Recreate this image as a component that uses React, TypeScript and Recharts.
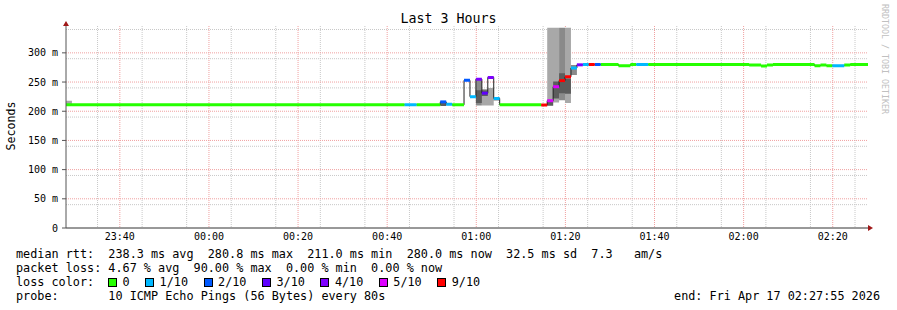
import React from "react";
import { ComposedChart, Line, Area, XAxis, YAxis, CartesianGrid } from "recharts";

// minutes relative to midnight (negative = before 00:00), each step lasts until the next one
const stepStart = [
  -32.083, -30.75, 43.917, 46.583, 51.917, 53.25, 54.583, 57.25, 58.583, 59.917,
  61.25, 62.583, 63.917, 65.25, 74.583, 75.917, 77.25, 78.583, 79.917, 81.25,
  82.583, 83.917, 85.25, 86.583, 87.917, 91.917, 94.583, 95.917, 98.583, 121.25,
  123.917, 125.25, 126.583, 135.917, 137.25, 138.583, 139.917, 142.583, 143.917,
];
const endMinute = 147.917;
const medianMs = [
  211, 211, 211, 211, 216, 212, 211, 253, 225, 255,
  231, 258, 222, 211, 210.5, 218, 242, 252.5, 259, 274,
  279.5, 280, 280, 280, 280, 278, 280, 280, 280, 279,
  277.5, 279, 280, 278, 279, 278, 278, 279, 280,
];
const lossTenths = [
  0, 0, 1, 0, 2, 1, 0, 2, 1, 4,
  3, 4, 1, 0, 9, 5, 5, 9, 9, 1,
  4, 1, 9, 2, 0, 0, 0, 1, 0, 0,
  0, 0, 0, 0, 0, 0, 1, 0, 0,
];

// smoke bands (index into steps)
const lightIdx = [0, 10, 11, 12, 15, 16, 18];
const lightLo = [210, 210, 210, 218, 209, 215, 214];
const lightHi = [218, 238, 240, 222, 343, 343, 343];
const midIdx = [9, 17, 19];
const midLo = [210, 219, 262];
const midHi = [255, 343, 279];
const coreIdx = [4, 9, 10, 15, 16, 17, 18];
const coreLo = [209, 214, 226, 210, 222, 231, 230];
const coreHi = [216, 236, 236, 218, 251, 265, 256];

const lossLevels = [0, 1, 2, 3, 4, 5, 9];
const lossColors = ["#26ff00", "#00b8ff", "#0059ff", "#5e00ff", "#7e00ff", "#dd00ff", "#ff0000"];
const lossLabels = ["0", "1/10", "2/10", "3/10", "4/10", "5/10", "9/10"];

const xTicks = [-20, 0, 20, 40, 60, 80, 100, 120, 140];
const yTicks = [0, 50, 100, 150, 200, 250, 300];

const rttLine = "median rtt:  238.3 ms avg  280.8 ms max  211.0 ms min  280.0 ms now  32.5 ms sd  7.3   am/s";
const lossLine = "packet loss: 4.67 % avg  90.00 % max  0.00 % min  0.00 % now";
const probeLine = "probe:       10 ICMP Echo Pings (56 Bytes) every 80s";
const endLine = "end: Fri Apr 17 02:27:55 2026";

// two rows per step; loss-coloured keys alternate by parity so steps don't join with thick verticals
const rows: any[] = [];
stepStart.forEach((t, i) => {
  const t1 = i + 1 < stepStart.length ? stepStart[i + 1] : endMinute;
  const r: any = { med: medianMs[i], light: null, mid: null, core: null };
  lossLevels.forEach((l) => {
    r[`l${l}a`] = null;
    r[`l${l}b`] = null;
  });
  r[`l${lossTenths[i]}${i % 2 ? "b" : "a"}`] = medianMs[i];
  const a = lightIdx.indexOf(i);
  if (a >= 0) r.light = [lightLo[a], lightHi[a]];
  const b = midIdx.indexOf(i);
  if (b >= 0) r.mid = [midLo[b], midHi[b]];
  const c = coreIdx.indexOf(i);
  if (c >= 0) r.core = [coreLo[c], coreHi[c]];
  rows.push({ t, ...r }, { t: t1, ...r });
});

const minorH: number[] = [];
for (let v = 10; v <= 340; v += 10) if (v % 50) minorH.push(v);
const majorH = yTicks.filter((v) => v > 0);
const minorV: number[] = [];
for (let m = -30; m <= 145; m += 5) if (m % 20) minorV.push(m);

const fmtTime = (m: number) => {
  const mm = ((Math.round(m) % 1440) + 1440) % 1440;
  return `${String(Math.floor(mm / 60)).padStart(2, "0")}:${String(mm % 60).padStart(2, "0")}`;
};

const mono = "'DejaVu Sans Mono', monospace";
const tickFont = { fontFamily: mono, fontSize: 10, fill: "#000" };

export default function App() {
  return (
    <div style={{ position: "absolute", left: 0, top: 0, width: 897, height: 310, background: "#fff", fontFamily: mono }}>
      <ComposedChart width={897} height={250} data={rows} margin={{ top: 26, right: 29, bottom: 2, left: 0 }}>
        <CartesianGrid horizontalValues={minorH} verticalValues={minorV} stroke="#c8c8c8" strokeDasharray="1 1" />
        <CartesianGrid horizontalValues={majorH} verticalValues={xTicks} stroke="#f0a0a0" strokeDasharray="1 1" />
        <XAxis
          dataKey="t"
          type="number"
          domain={[-32.083, endMinute]}
          ticks={xTicks}
          tickFormatter={fmtTime}
          allowDataOverflow
          height={20}
          tickLine={false}
          tickSize={0}
          tickMargin={5}
          tick={tickFont}
          axisLine={{ stroke: "#333" }}
        />
        <YAxis
          type="number"
          domain={[0, 346]}
          ticks={yTicks}
          allowDataOverflow
          width={66}
          tickFormatter={(v: number) => (v === 0 ? "0" : `${v} m`)}
          tickSize={4}
          tickMargin={4}
          tick={tickFont}
          tickLine={{ stroke: "#555" }}
          axisLine={{ stroke: "#555" }}
        />
        <Area dataKey="light" type="linear" stroke="none" fill="#a8a8a8" fillOpacity={1} isAnimationActive={false} />
        <Area dataKey="mid" type="linear" stroke="none" fill="#8a8a8a" fillOpacity={1} isAnimationActive={false} />
        <Area dataKey="core" type="linear" stroke="none" fill="#5c5c5c" fillOpacity={1} isAnimationActive={false} />
        <Line dataKey="med" type="linear" stroke="#202020" strokeWidth={1} dot={false} activeDot={false} isAnimationActive={false} />
        {lossLevels.flatMap((l, k) =>
          ["a", "b"].map((p) => (
            <Line
              key={`${l}${p}`}
              dataKey={`l${l}${p}`}
              type="linear"
              stroke={lossColors[k]}
              strokeWidth={3}
              strokeLinecap="butt"
              dot={false}
              activeDot={false}
              isAnimationActive={false}
            />
          ))
        )}
      </ComposedChart>

      <svg width={897} height={310} style={{ position: "absolute", left: 0, top: 0, pointerEvents: "none" }}>
        <polygon points="63,26 69,26 66,21" fill="#a01818" />
        <polygon points="868,225 868,231 873,228" fill="#a01818" />
      </svg>

      <div style={{ position: "absolute", left: 0, top: 12, width: 897, textAlign: "center", fontSize: 13.3, lineHeight: "14px", color: "#000" }}>
        Last 3 Hours
      </div>
      <div
        style={{
          position: "absolute",
          left: 11,
          top: 126,
          transform: "translate(-50%, -50%) rotate(-90deg)",
          fontSize: 11.6,
          lineHeight: "14px",
          whiteSpace: "pre",
        }}
      >
        Seconds
      </div>
      <div
        style={{
          position: "absolute",
          left: 880,
          top: 4,
          writingMode: "vertical-rl",
          fontSize: 8.3,
          color: "#c0c0c0",
          whiteSpace: "pre",
          lineHeight: "10px",
        }}
      >
        RRDTOOL / TOBI OETIKER
      </div>

      <div style={{ position: "absolute", left: 16, top: 247, fontSize: 11.8, lineHeight: "14px", whiteSpace: "pre" }}>
        <div>{rttLine}</div>
        <div>{lossLine}</div>
        <div style={{ display: "flex", alignItems: "center" }}>
          <span style={{ width: 92 }}>loss color:</span>
          {lossLevels.map((l, k) => (
            <span key={l} style={{ display: "flex", alignItems: "center", marginRight: 15.5 }}>
              <span style={{ width: 7, height: 7, background: lossColors[k], border: "1px solid #000", marginRight: 5.5 }} />
              <span>{lossLabels[k]}</span>
            </span>
          ))}
        </div>
        <div>{probeLine}</div>
      </div>
      <div style={{ position: "absolute", right: 17, top: 289, fontSize: 11.8, lineHeight: "14px", whiteSpace: "pre" }}>
        {endLine}
      </div>
    </div>
  );
}
